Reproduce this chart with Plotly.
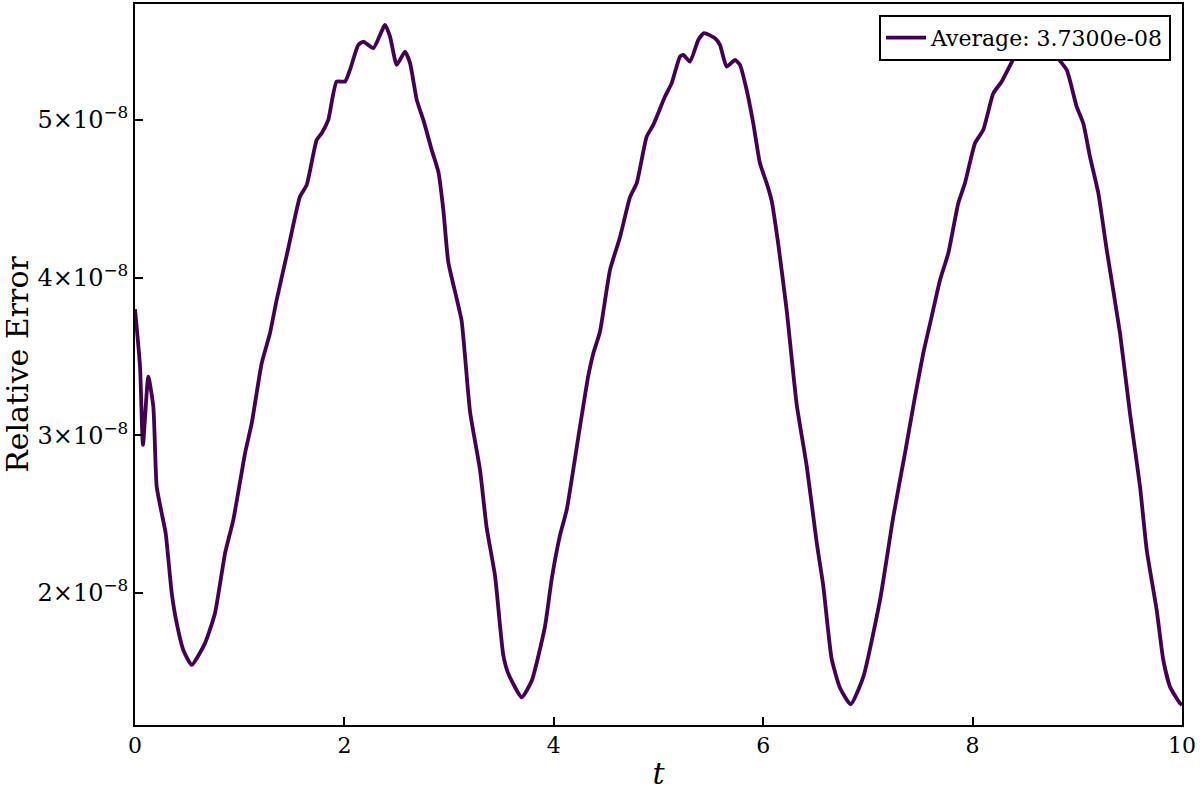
import plotly.graph_objects as go

# time samples (t) and relative error values (in units of 1e-8)
t_vals = [0.000, 0.048, 0.076, 0.127, 0.175, 0.207, 0.255, 0.293, 0.351, 0.398,
          0.461, 0.542, 0.669, 0.764, 0.860, 0.939, 1.051, 1.115, 1.210, 1.289,
          1.353, 1.464, 1.576, 1.640, 1.735, 1.783, 1.846, 1.926, 2.006, 2.053,
          2.133, 2.181, 2.276, 2.388, 2.436, 2.500, 2.579, 2.627, 2.691, 2.754,
          2.834, 2.897, 2.945, 2.992, 3.073, 3.120, 3.200, 3.295, 3.359, 3.438,
          3.518, 3.565, 3.693, 3.789, 3.916, 3.980, 4.059, 4.123, 4.234, 4.330,
          4.377, 4.441, 4.537, 4.632, 4.728, 4.792, 4.887, 4.950, 5.062, 5.126,
          5.205, 5.237, 5.301, 5.380, 5.435, 5.540, 5.587, 5.651, 5.731, 5.778,
          5.842, 5.905, 5.969, 6.033, 6.081, 6.144, 6.224, 6.320, 6.416, 6.511,
          6.574, 6.654, 6.734, 6.836, 6.956, 7.116, 7.243, 7.354, 7.450, 7.529,
          7.609, 7.689, 7.768, 7.863, 7.927, 8.023, 8.102, 8.198, 8.278, 8.405,
          8.520, 8.644, 8.739, 8.803, 8.899, 8.994, 9.057, 9.121, 9.201, 9.281,
          9.408, 9.503, 9.599, 9.663, 9.758, 9.821, 9.885, 9.981, 10.000]

err_e8 = [3.800, 3.436, 2.939, 3.372, 3.182, 2.675, 2.506, 2.379, 1.999, 1.810,
          1.639, 1.544, 1.682, 1.872, 2.252, 2.464, 2.886, 3.077, 3.457, 3.647,
          3.859, 4.186, 4.514, 4.588, 4.873, 4.916, 5.000, 5.243, 5.243, 5.317,
          5.476, 5.497, 5.455, 5.602, 5.528, 5.349, 5.433, 5.360, 5.127, 5.000,
          4.810, 4.672, 4.429, 4.100, 3.865, 3.725, 3.150, 2.781, 2.413, 2.112,
          1.604, 1.490, 1.339, 1.443, 1.789, 2.089, 2.365, 2.527, 2.988, 3.380,
          3.519, 3.657, 4.049, 4.256, 4.510, 4.599, 4.894, 4.968, 5.148, 5.233,
          5.401, 5.412, 5.370, 5.507, 5.550, 5.518, 5.476, 5.338, 5.380, 5.349,
          5.190, 4.979, 4.725, 4.599, 4.487, 4.211, 3.795, 3.196, 2.803, 2.320,
          2.043, 1.582, 1.398, 1.294, 1.468, 1.956, 2.485, 2.886, 3.245, 3.521,
          3.753, 3.985, 4.155, 4.472, 4.599, 4.852, 4.937, 5.169, 5.243, 5.401,
          5.460, 5.480, 5.460, 5.401, 5.317, 5.084, 4.979, 4.767, 4.535, 4.176,
          3.647, 3.140, 2.675, 2.273, 1.893, 1.576, 1.406, 1.301, 1.290]

err_vals = [v * 1e-8 for v in err_e8]

y_tick_vals = [2e-8, 3e-8, 4e-8, 5e-8]
y_tick_text = ["2×10<sup>−8</sup>", "3×10<sup>−8</sup>", "4×10<sup>−8</sup>", "5×10<sup>−8</sup>"]
x_tick_vals = [0, 2, 4, 6, 8, 10]

legend_label = "Average: 3.7300e-08"

FONT = "DejaVu Serif"

fig = go.Figure()
fig.add_trace(go.Scatter(
    x=t_vals, y=err_vals, mode="lines", name=legend_label,
    line=dict(color="#440154", width=3.8, shape="spline", smoothing=0.5),
))

fig.update_layout(
    width=1200, height=800,
    paper_bgcolor="white", plot_bgcolor="white",
    margin=dict(l=135, r=18, t=4, b=75, autoexpand=False),
    font=dict(family=FONT, color="black", size=20),
    showlegend=True,
    legend=dict(
        x=0.9895, y=0.985, xanchor="right", yanchor="top",
        bgcolor="white", bordercolor="black", borderwidth=2,
        font=dict(family=FONT, size=22, color="black"),
        itemwidth=40, tracegroupgap=0,
    ),
)

fig.update_xaxes(
    range=[0, 10], tickvals=x_tick_vals,
    ticks="inside", ticklen=8, tickwidth=1.5, tickcolor="black",
    showline=True, linecolor="black", linewidth=2, mirror=True,
    showgrid=False, zeroline=False,
    tickfont=dict(family=FONT, size=22),
    title=dict(text="<i>t</i>", font=dict(family=FONT, size=30), standoff=6),
)
fig.update_yaxes(
    range=[1.163e-8, 5.735e-8], tickvals=y_tick_vals, ticktext=y_tick_text,
    ticks="inside", ticklen=8, tickwidth=1.5, tickcolor="black",
    showline=True, linecolor="black", linewidth=2, mirror=True,
    showgrid=False, zeroline=False,
    tickfont=dict(family=FONT, size=24),
    title=dict(text="Relative Error", font=dict(family=FONT, size=30), standoff=8),
)

fig.write_html(
    "out.html",
    config={"displayModeBar": False},
    post_script="document.body.style.margin='0';document.body.style.padding='0';",
)
